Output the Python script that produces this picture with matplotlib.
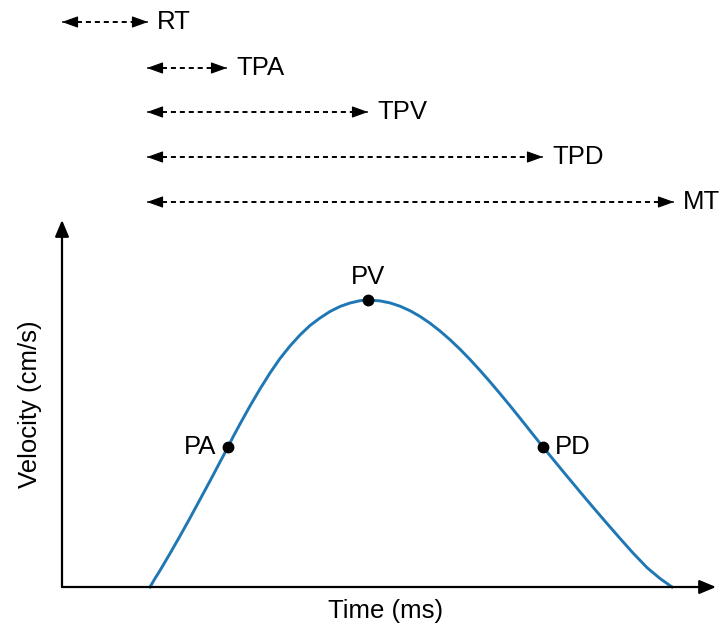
import matplotlib
matplotlib.use("Agg")
import matplotlib.pyplot as plt

plt.rcParams['font.family'] = ['Liberation Sans', 'DejaVu Sans']

# velocity profile (time, velocity in arbitrary units)
time_ms = [88, 93, 98, 108, 118, 128, 138, 148, 158, 166, 171, 178, 188, 198,
           208, 218, 228, 238, 248, 258, 268, 278, 288, 298, 306,
           318, 328, 338, 348, 358, 368, 378, 388, 398, 408, 418, 428, 438,
           448, 458, 468, 481, 491, 505, 518, 531, 545, 558, 571, 585, 598, 610]
velocity = [0, 8.5, 16.5, 33.5, 51, 69, 87.5, 106, 125, 140, 150, 163, 181, 198,
            214, 228.5, 241, 252, 261.5, 269, 275.5, 280.5, 284, 286.3, 287,
            286.1, 284.1, 280.8, 276.3, 270.6, 263.8, 256, 247.3, 237.8, 227.5,
            216.6, 205.2, 193.4, 181.3, 168.9, 156.3, 140,
            127.8, 110.8, 95.2, 79.8, 63.5, 48.6, 34, 19.4, 8.5, 0]

# key events on the curve
event_labels = ['PA', 'PV', 'PD']
event_time = [166, 306, 481]
event_vel = [140, 287, 140]

# interval arrows above the plot
interval_labels = ['RT', 'TPA', 'TPV', 'TPD', 'MT']
interval_start = [0, 85, 85, 85, 85]
interval_end = [86, 165, 306, 481, 612]
interval_row = [565, 519, 475, 430, 385]

fig = plt.figure(figsize=(7.19, 6.32), dpi=100)
W, H = 719, 632
ax = fig.add_axes([62 / W, (H - 587) / H, (716 - 62) / W, (587 - 220) / H])
ax.set_xlim(0, 654)
ax.set_ylim(0, 367)
ax.axis('off')

fs = 18.5

# axes drawn as arrows
axis_props = dict(arrowstyle='-|>,head_length=1.0,head_width=0.42', color='black',
                  lw=1.6, shrinkA=0, shrinkB=0, mutation_scale=10)
ax.annotate('', xy=(654, 0), xytext=(0, 0), arrowprops=axis_props, annotation_clip=False)
ax.annotate('', xy=(0, 367), xytext=(0, 0), arrowprops=axis_props, annotation_clip=False)

# curve and events
ax.plot(time_ms, velocity, color='#1f77b4', lw=2.1, solid_joinstyle='round', clip_on=False)
ax.plot(event_time, event_vel, 'o', color='black', ms=7.5, clip_on=False, zorder=5)
ax.text(event_time[0] - 12, event_vel[0], event_labels[0], fontsize=fs, ha='right', va='center')
ax.text(event_time[1], event_vel[1] + 11, event_labels[1], fontsize=fs, ha='center', va='bottom')
ax.text(event_time[2] + 12, event_vel[2], event_labels[2], fontsize=fs, ha='left', va='center')

# dashed double arrows for intervals
head = dict(arrowstyle='-|>,head_length=1.0,head_width=0.36', color='black',
            lw=0.8, shrinkA=0, shrinkB=0, mutation_scale=10)
for lab, x0, x1, yy in zip(interval_labels, interval_start, interval_end, interval_row):
    ax.plot([x0 + 6, x1 - 6], [yy, yy], color='black', lw=1.4,
            linestyle=(0, (2.6, 2.0)), clip_on=False)
    ax.annotate('', xy=(x1, yy), xytext=(x1 - 1, yy), arrowprops=head, annotation_clip=False)
    ax.annotate('', xy=(x0, yy), xytext=(x0 + 1, yy), arrowprops=head, annotation_clip=False)
    ax.text(x1 + 9, yy, lab, fontsize=fs, ha='left', va='center', clip_on=False)

fig.text(30 / W, 1 - 404 / H, 'Velocity (cm/s)', fontsize=fs, rotation=90,
         ha='center', va='center')
fig.text(386 / W, 1 - 611 / H, 'Time (ms)', fontsize=fs, ha='center', va='center')

fig.savefig('out.png', dpi=100)
